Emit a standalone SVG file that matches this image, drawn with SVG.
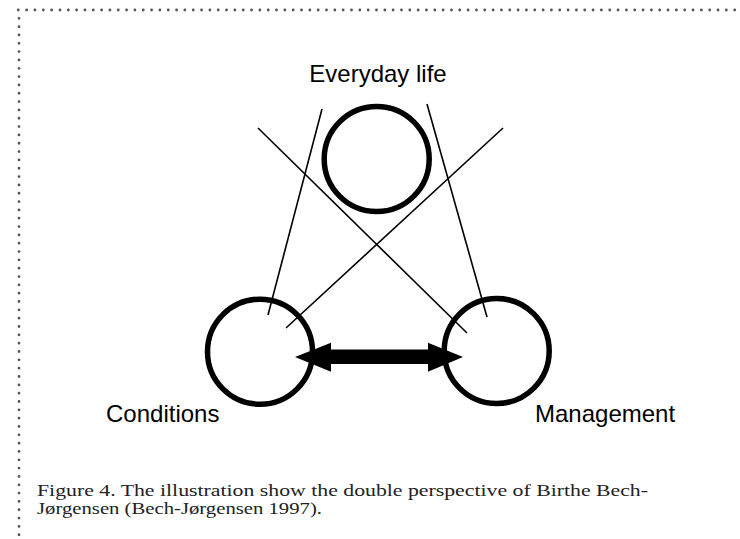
<svg xmlns="http://www.w3.org/2000/svg" width="740" height="539" viewBox="0 0 740 539">
<style>
.border{stroke:#555;stroke-width:2.8;stroke-linecap:round;stroke-dasharray:0 8.33;fill:none}
.ring{fill:none;stroke:#000;stroke-width:5.5}
.ln{stroke:#000;stroke-width:1.6;fill:none}
.lbl{font-family:"Liberation Sans",Arial,sans-serif;font-size:24px;fill:#000}
.cap{font-family:"Liberation Serif","Times New Roman",serif;font-size:16.5px;fill:#222}
</style>
<rect width="740" height="539" fill="#fff"/>
<g id="border">
<line class="border" x1="18.3" y1="10" x2="740" y2="10"/>
<line class="border" x1="19" y1="18.3" x2="19" y2="539"/>
</g>
<g id="connectors">
<line class="ln" x1="322" y1="109" x2="268" y2="315"/>
<line class="ln" x1="258" y1="128" x2="467" y2="333"/>
<line class="ln" x1="427" y1="104" x2="487" y2="317"/>
<line class="ln" x1="503" y1="128" x2="286" y2="328"/>
</g>
<g id="everyday">
<circle class="ring" cx="376.7" cy="159" r="52.5"/>
<text class="lbl" x="378" y="82" text-anchor="middle">Everyday life</text>
</g>
<g id="conditions">
<circle class="ring" cx="260" cy="351.7" r="52.5"/>
<text class="lbl" x="106" y="422">Conditions</text>
</g>
<g id="management">
<circle class="ring" cx="496.7" cy="351" r="52.5"/>
<text class="lbl" x="535" y="422">Management</text>
</g>
<g id="arrow">
<polygon fill="#000" points="295,357 331,342.7 331,349.5 428,349.5 428,342.7 463,357 428,371.7 428,364 331,364 331,371.7"/>
</g>
<g id="caption">
<text class="cap" x="37" y="495.5" textLength="611" lengthAdjust="spacingAndGlyphs">Figure 4. The illustration show the double perspective of  Birthe Bech-</text>
<text class="cap" x="37" y="514" textLength="285" lengthAdjust="spacingAndGlyphs">Jørgensen (Bech-Jørgensen 1997).</text>
</g>
</svg>
